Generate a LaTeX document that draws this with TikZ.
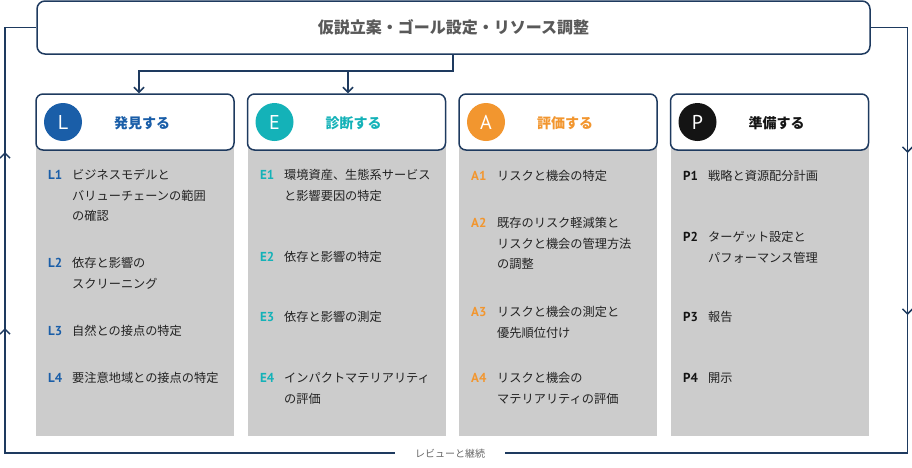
\documentclass[tikz,border=0pt]{standalone}
\usepackage{fontspec}
\setmainfont{Noto Sans CJK JP}
\newfontfamily\lat{PT Sans}
\usetikzlibrary{arrows.meta}
\definecolor{navy}{HTML}{1E3A5F}
\definecolor{boxgray}{HTML}{CCCCCC}
\definecolor{txt}{HTML}{222222}
\definecolor{topgray}{HTML}{595959}
\definecolor{loopgray}{HTML}{666666}
\definecolor{cL}{HTML}{1A5EA8}
\definecolor{cE}{HTML}{14B2B8}
\definecolor{cA}{HTML}{F2962F}
\definecolor{cP}{HTML}{141414}
\tikzset{
  conn/.style={draw=navy, line width=1.5pt},
  tip/.style={-{Straight Barb[length=5pt,width=10pt]}},
  topbox/.style={draw=navy, line width=1.5pt, fill=white, rounded corners=8pt, minimum width=833pt, minimum height=53pt, inner sep=0, text=topgray, font=\bfseries\fontsize{16}{16}\selectfont},
  headbox/.style={draw=navy, line width=1.5pt, fill=white, rounded corners=7pt, minimum width=198pt, minimum height=56pt, inner sep=0},
  bodybox/.style={fill=boxgray, draw=none, minimum width=198pt, minimum height=290pt, anchor=north west, inner sep=0},
  circ/.style={circle, minimum size=38pt, inner sep=0, text=white, font=\lat\fontsize{20}{20}\selectfont},
  htext/.style={inner sep=0, font=\bfseries\fontsize{14}{14}\selectfont},
  lab/.style={anchor=base west, inner sep=0, font=\lat\bfseries\fontsize{13}{13}\selectfont},
  itm/.style={anchor=north west, inner sep=0, align=left, text=txt, font=\fontsize{12.2}{20.5}\selectfont},
  looplabel/.style={inner xsep=20pt, inner ysep=0, text=loopgray, font=\fontsize{10}{10}\selectfont},
}
\newcommand\itemtext[1]{\rule{0pt}{11pt}#1}
\begin{document}
\begin{tikzpicture}[x=1pt,y=-1pt]
\useasboundingbox (0,0) rectangle (912,467);

% top box
\node[topbox] (top) at (453.5,27.5) {仮説立案・ゴール設定・リソース調整};

% column bodies
\node[bodybox] (Lb) at (36,146) {};
\node[bodybox] (Eb) at (247.5,146) {};
\node[bodybox] (Ab) at (459,146) {};
\node[bodybox] (Pb) at (670.5,146) {};

% headers
\node[headbox] (Lh) at (135,122) {};
\node[headbox] (Eh) at (346.5,122) {};
\node[headbox] (Ah) at (558,122) {};
\node[headbox] (Ph) at (769.5,122) {};

\node[circ, fill=cL] (Lc) at (63,122) {L};
\node[circ, fill=cE] (Ec) at (274.5,122) {E};
\node[circ, fill=cA] (Ac) at (486,122) {A};
\node[circ, fill=cP] (Pc) at (697.5,122) {P};

\node[htext, text=cL] (Lt) at (142,123) {発見する};
\node[htext, text=cE] (Et) at (353.5,123) {診断する};
\node[htext, text=cA] (At) at (565,123) {評価する};
\node[htext, text=cP] (Pt) at (776.5,123) {準備する};

% L items
\node[lab, text=cL] (L1l) at (48,179.6) {L1};
\node[itm] (L1t) at (72,168.6) {\itemtext{ビジネスモデルと}\\バリューチェーンの範囲\\の確認};
\node[lab, text=cL] (L2l) at (48,267.6) {L2};
\node[itm] (L2t) at (72,256.6) {\itemtext{依存と影響の}\\スクリーニング};
\node[lab, text=cL] (L3l) at (48,335.6) {L3};
\node[itm] (L3t) at (72,324.6) {\itemtext{自然との接点の特定}};
\node[lab, text=cL] (L4l) at (48,382.6) {L4};
\node[itm] (L4t) at (72,371.6) {\itemtext{要注意地域との接点の特定}};

% E items
\node[lab, text=cE] (E1l) at (260,179.6) {E1};
\node[itm] (E1t) at (284,168.6) {\itemtext{環境資産、生態系サービス}\\と影響要因の特定};
\node[lab, text=cE] (E2l) at (260,261.6) {E2};
\node[itm] (E2t) at (284,250.6) {\itemtext{依存と影響の特定}};
\node[lab, text=cE] (E3l) at (260,321.6) {E3};
\node[itm] (E3t) at (284,310.6) {\itemtext{依存と影響の測定}};
\node[lab, text=cE] (E4l) at (260,382.6) {E4};
\node[itm] (E4t) at (284,371.6) {\itemtext{インパクトマテリアリティ}\\の評価};

% A items
\node[lab, text=cA] (A1l) at (471,180.6) {A1};
\node[itm] (A1t) at (497,169.6) {\itemtext{リスクと機会の特定}};
\node[lab, text=cA] (A2l) at (471,227.6) {A2};
\node[itm] (A2t) at (497,216.6) {\itemtext{既存のリスク軽減策と}\\リスクと機会の管理方法\\の調整};
\node[lab, text=cA] (A3l) at (471,316.6) {A3};
\node[itm] (A3t) at (497,305.6) {\itemtext{リスクと機会の測定と}\\優先順位付け};
\node[lab, text=cA] (A4l) at (471,382.6) {A4};
\node[itm] (A4t) at (497,371.6) {\itemtext{リスクと機会の}\\マテリアリティの評価};

% P items
\node[lab, text=cP] (P1l) at (683,180.6) {P1};
\node[itm] (P1t) at (708,169.6) {\itemtext{戦略と資源配分計画}};
\node[lab, text=cP] (P2l) at (683,241.6) {P2};
\node[itm] (P2t) at (708,230.6) {\itemtext{ターゲット設定と}\\パフォーマンス管理};
\node[lab, text=cP] (P3l) at (683,321.6) {P3};
\node[itm] (P3t) at (708,310.6) {\itemtext{報告}};
\node[lab, text=cP] (P4l) at (683,382.6) {P4};
\node[itm] (P4t) at (708,371.6) {\itemtext{開示}};

% connectors from top to L and E
\coordinate (j) at (453,71);
\draw[conn, tip] (top.south -| j) -- (j) -| ([xshift=4pt]Lh.north);
\draw[conn, tip] (j) -| ([xshift=1.5pt]Eh.north);

% review loop
\node[looplabel] (loop) at (450,454) {レビューと継続};
\coordinate (bl) at (5,453);
\coordinate (tl) at (5,27.5);
\coordinate (tr) at (907.5,27.5);
\coordinate (br) at (907.5,453);
\draw[conn] (loop.west |- bl) -- (bl) -- (tl) -- (top.west);
\draw[conn] (top.east) -- (tr) -- (br) -- (loop.east |- br);

% direction marks on loop
\coordinate (la1) at (5,152);
\coordinate (la2) at (5,328);
\coordinate (ra1) at (907.5,153);
\coordinate (ra2) at (907.5,315);
\draw[conn, tip] ([yshift=-12pt]la1) -- (la1);
\draw[conn, tip] ([yshift=-12pt]la2) -- (la2);
\draw[conn, tip] ([yshift=12pt]ra1) -- (ra1);
\draw[conn, tip] ([yshift=12pt]ra2) -- (ra2);
\end{tikzpicture}
\end{document}
